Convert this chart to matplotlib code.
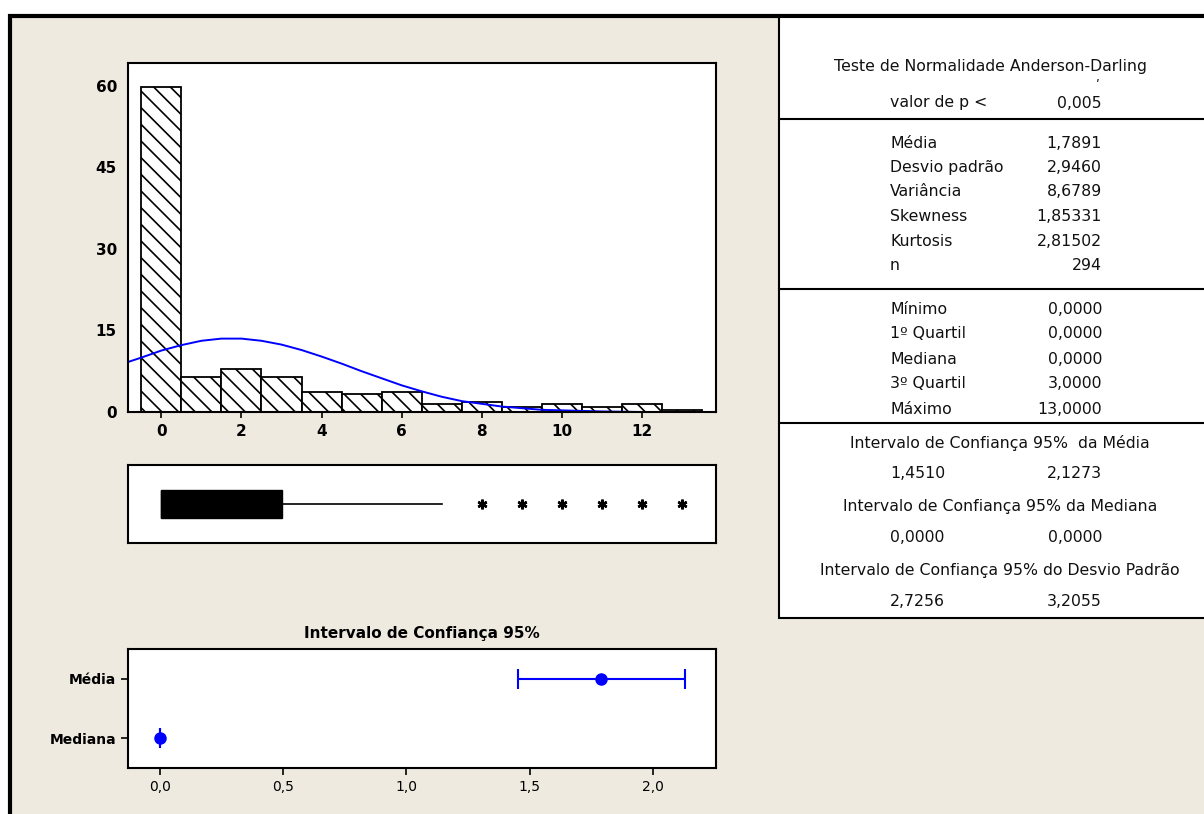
import matplotlib
matplotlib.use("Agg")
import matplotlib.pyplot as plt
from matplotlib.patches import Rectangle

# histogram (percent of n=294), one bin per integer value
bin_centers = [0, 1, 2, 3, 4, 5, 6, 7, 8, 9, 10, 11, 12, 13]
bin_percent = [59.8, 6.4, 7.9, 6.4, 3.7, 3.4, 3.7, 1.5, 1.8, 1.0, 1.5, 0.9, 1.5, 0.3]

# fitted normal curve
curve_x = [-0.83, -0.5, 0, 0.5, 1, 1.5, 2, 2.5, 3, 3.5, 4, 4.5, 5, 5.5, 6,
           6.5, 7, 7.5, 8, 8.5, 9, 9.5, 10, 11, 12, 12.75]
curve_y = [9.2, 10.0, 11.3, 12.3, 13.1, 13.5, 13.5, 13.1, 12.4, 11.4, 10.2, 8.9, 7.5, 6.2, 4.9,
           3.8, 2.8, 2.0, 1.5, 1.0, 0.7, 0.4, 0.3, 0.1, 0.0, 0.0]
hist_yticks = [0, 15, 30, 45, 60]
hist_xticks = [0, 2, 4, 6, 8, 10, 12]

# boxplot summary
box_q1, box_med, box_q3 = 0, 0, 3
whisker_lo, whisker_hi = 0, 7
outliers = [8, 9, 10, 11, 12, 13]

# 95% confidence intervals
ci_labels = ["Mediana", "Média"]
ci_center = [0.0, 1.7891]
ci_low = [0.0, 1.4510]
ci_high = [0.0, 2.1273]
ci_xticks = [0.0, 0.5, 1.0, 1.5, 2.0]
ci_xticklabels = ["0,0", "0,5", "1,0", "1,5", "2,0"]

# summary table rows
ad_rows = [("valor de p <", "0,005")]
desc_rows = [("Média", "1,7891"), ("Desvio padrão", "2,9460"), ("Variância", "8,6789"),
             ("Skewness", "1,85331"), ("Kurtosis", "2,81502"), ("n", "294")]
quart_rows = [("Mínimo", "0,0000"), ("1º Quartil", "0,0000"), ("Mediana", "0,0000"),
              ("3º Quartil", "3,0000"), ("Máximo", "13,0000")]
ci_rows = [("Intervalo de Confiança 95%  da Média", "1,4510", "2,1273"),
           ("Intervalo de Confiança 95% da Mediana", "0,0000", "0,0000"),
           ("Intervalo de Confiança 95% do Desvio Padrão", "2,7256", "3,2055")]

W, H = 1204, 814
BEIGE = "#EEEAE0"
BLUE = "#0000FF"
plt.rcParams["font.family"] = ["DejaVu Sans"]
plt.rcParams["hatch.linewidth"] = 1.2


def frac(l, t, r, b):
    # pixel box -> figure fraction
    return [l / W, 1 - b / H, (r - l) / W, (b - t) / H]


fig = plt.figure(figsize=(W / 100, H / 100), dpi=100, facecolor="white")

# background panel + summary table, drawn in pixel coords
bg = fig.add_axes([0, 0, 1, 1], zorder=0)
bg.set_xlim(0, W)
bg.set_ylim(H, 0)
bg.axis("off")
bg.add_patch(Rectangle((10, 16), W + 20, H + 20, facecolor=BEIGE, edgecolor="black", lw=3))
bg.add_patch(Rectangle((779, 17), W, 601, facecolor="white", edgecolor="black", lw=1.5))
for y in [119, 289, 423]:
    bg.plot([779, W + 5], [y, y], color="black", lw=1.5)

tkw = dict(fontsize=11.3, va="center", color="#111111")
bg.text(990, 67, "Teste de Normalidade Anderson-Darling", ha="center", **tkw)
bg.text(1098, 86, "\u02b9", ha="center", fontsize=10, va="center", color="#111111")
lab_x, val_x = 890, 1102
y = 103
for lab, val in ad_rows:
    bg.text(lab_x, y, lab, ha="left", **tkw)
    bg.text(val_x, y, val, ha="right", **tkw)
y = 143
for lab, val in desc_rows:
    bg.text(lab_x, y, lab, ha="left", **tkw)
    bg.text(val_x, y, val, ha="right", **tkw)
    y += 24.5
y = 309
for lab, val in quart_rows:
    bg.text(lab_x, y, lab, ha="left", **tkw)
    bg.text(val_x, y, val, ha="right", **tkw)
    y += 25
y = 443
for head, lo, hi in ci_rows:
    bg.text(1000, y, head, ha="center", **tkw)
    bg.text(lab_x, y + 31, lo, ha="left", **tkw)
    bg.text(val_x, y + 31, hi, ha="right", **tkw)
    y += 63.5

# histogram
ax_h = fig.add_axes(frac(128, 63, 716, 412), zorder=1)
ax_h.bar(bin_centers, bin_percent, width=1, facecolor="white", edgecolor="black",
         hatch="\\\\", lw=1.3)
ax_h.plot(curve_x, curve_y, color=BLUE, lw=1.4)
ax_h.set_xlim(-0.83, 13.84)
ax_h.set_ylim(0, 64.2)
ax_h.set_xticks(hist_xticks)
ax_h.set_yticks(hist_yticks)
ax_h.tick_params(axis="x", length=4, width=1.2, pad=5, labelsize=11)
ax_h.tick_params(axis="y", length=0, pad=8, labelsize=11)
for t in ax_h.get_xticklabels() + ax_h.get_yticklabels():
    t.set_fontweight("bold")

# boxplot
ax_b = fig.add_axes(frac(128, 465, 716, 543), zorder=1)
stats = [dict(med=box_med, q1=box_q1, q3=box_q3, whislo=whisker_lo, whishi=whisker_hi,
              fliers=outliers)]
ax_b.bxp(stats, positions=[1], widths=0.37, orientation="horizontal", patch_artist=True,
         showcaps=False,
         boxprops=dict(facecolor="black", edgecolor="black", lw=1),
         medianprops=dict(color="black", lw=1),
         whiskerprops=dict(color="black", lw=1.2),
         flierprops=dict(marker=(6, 2, 0), markersize=7, markeredgewidth=1.8,
                         markeredgecolor="black", markerfacecolor="black"))
ax_b.set_xlim(-0.83, 13.84)
ax_b.set_ylim(0.5, 1.5)
ax_b.set_xticks([])
ax_b.set_yticks([])

# confidence intervals
ax_c = fig.add_axes(frac(128, 649, 716, 768), zorder=1)
ypos = list(range(len(ci_labels)))
xerr = [[c - lo for c, lo in zip(ci_center, ci_low)],
        [hi - c for c, hi in zip(ci_center, ci_high)]]
ax_c.errorbar(ci_center, ypos, xerr=xerr, fmt="o", color=BLUE, ms=8, capsize=7,
              capthick=1.5, elinewidth=1.5)
ax_c.set_xlim(-0.128, 2.254)
ax_c.set_ylim(-0.5, 1.5)
ax_c.set_xticks(ci_xticks)
ax_c.set_xticklabels(ci_xticklabels)
ax_c.set_yticks(ypos)
ax_c.set_yticklabels(ci_labels, fontweight="bold")
ax_c.tick_params(length=5, width=1.2, labelsize=10)
ax_c.set_title("Intervalo de Confiança 95%", fontsize=11, fontweight="bold", pad=8)

for ax in (ax_h, ax_b, ax_c):
    for s in ax.spines.values():
        s.set_linewidth(1.5)

fig.savefig("out.png", dpi=100, facecolor="white")
